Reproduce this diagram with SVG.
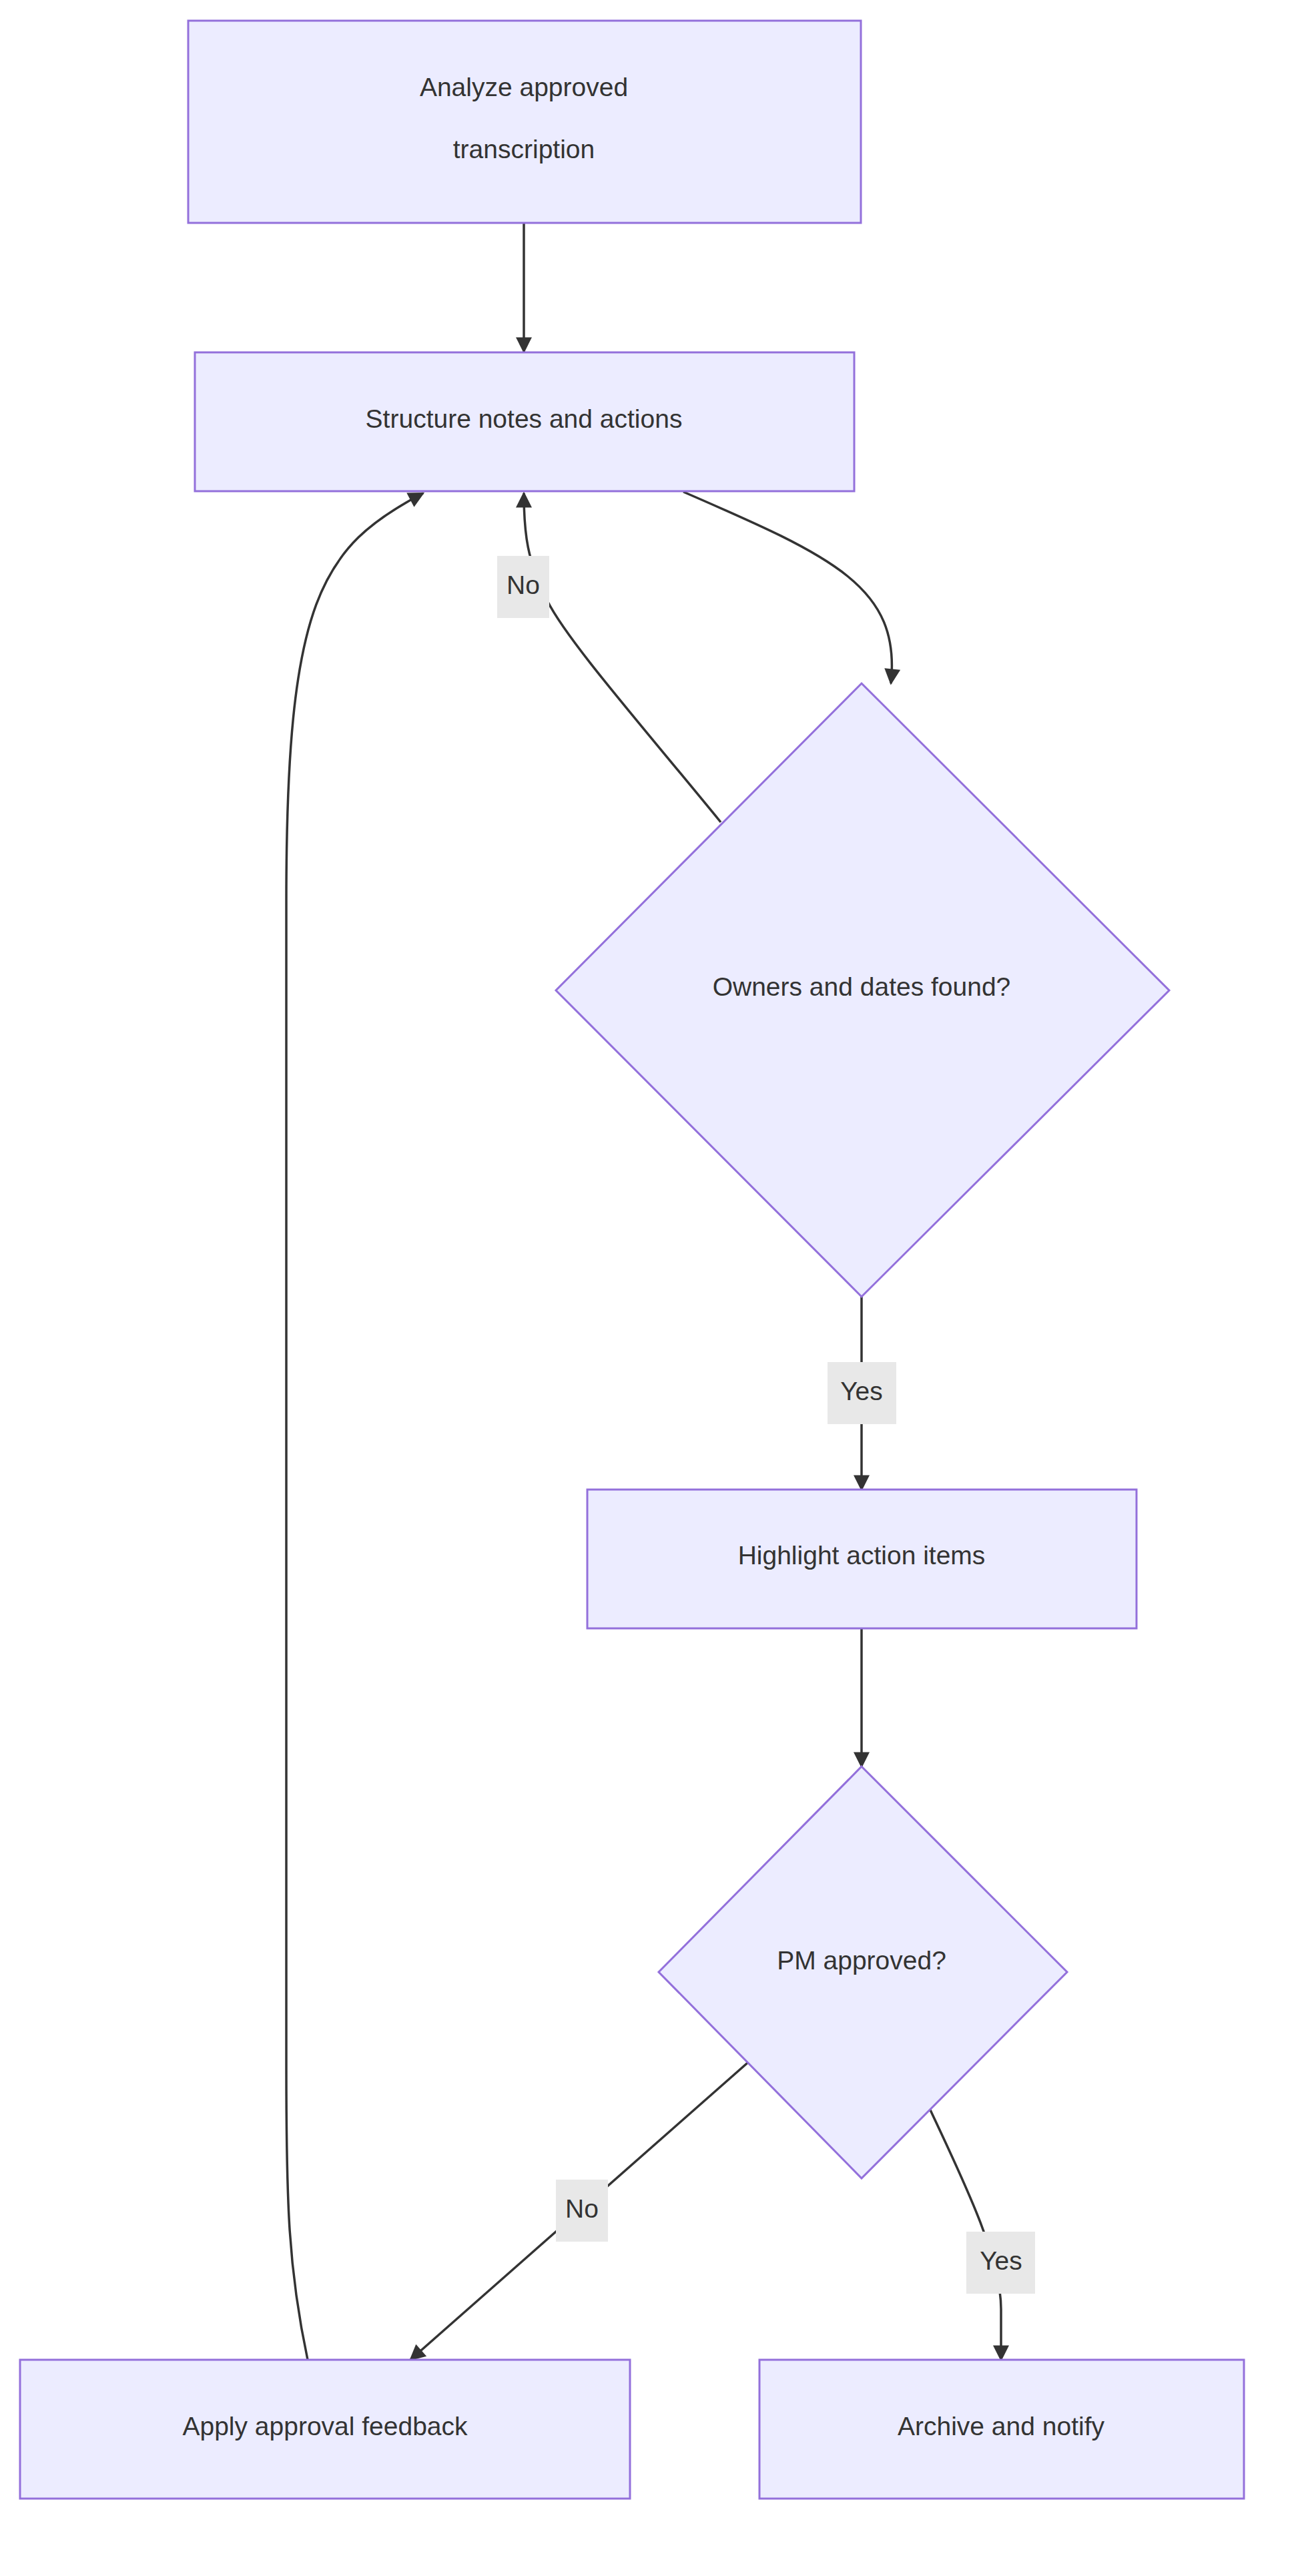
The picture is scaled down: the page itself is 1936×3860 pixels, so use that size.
<svg xmlns="http://www.w3.org/2000/svg" width="1936" height="3860" viewBox="0 0 1936 3860">
<style>
.n{fill:#ECECFF;stroke:#9370DB;stroke-width:3}
.t{font-family:"Liberation Sans",Arial,sans-serif;font-size:39px;fill:#333;text-anchor:middle;dominant-baseline:central}
.e{fill:none;stroke:#333;stroke-width:3.5}
.lb{fill:#e8e8e8}
</style>
<defs>
<marker id="ah" viewBox="0 0 10 10" refX="9" refY="5" markerWidth="8" markerHeight="8" markerUnits="userSpaceOnUse" orient="auto" style="overflow:visible">
<path d="M0,0 L10,5 L0,10 z" fill="#333" transform="scale(3)" transform-origin="9 5"/>
</marker>
</defs>
<rect width="1936" height="3860" fill="#fff"/>
<g id="connectors">
<path class="e" d="M785,333 L785,527" marker-end="url(#ah)"/>
<path class="e" d="M1024,737 C1250,835 1350,880 1335,1024" marker-end="url(#ah)"/>
<path class="e" d="M1080,1232 C960,1085 850,960 820,900 C790,840 785,800 785,739" marker-end="url(#ah)"/>
<path class="e" d="M1291,1943 L1291,2232" marker-end="url(#ah)"/>
<path class="e" d="M1291,2440 L1291,2647" marker-end="url(#ah)"/>
<path class="e" d="M1127,3085 L615,3536" marker-end="url(#ah)"/>
<path class="e" d="M1389,3151 C1440,3260 1500,3380 1500,3460 L1500,3536" marker-end="url(#ah)"/>
<path class="e" d="M461,3536 C432,3400 429,3300 429,3100 L429,1350 C429,900 480,820 634,739" marker-end="url(#ah)"/>
<rect class="lb" x="745" y="833" width="78" height="93"/><text class="t" x="784" y="876">No</text>
<rect class="lb" x="1240" y="2041" width="103" height="93"/><text class="t" x="1291" y="2084">Yes</text>
<rect class="lb" x="833" y="3266" width="78" height="93"/><text class="t" x="872" y="3309">No</text>
<rect class="lb" x="1448" y="3344" width="103" height="93"/><text class="t" x="1500" y="3387">Yes</text>
</g>
<g id="n1"><rect class="n" x="282" y="31" width="1008" height="303"/><text class="t" x="785" y="130">Analyze approved</text><text class="t" x="785" y="223">transcription</text></g>
<g id="n2"><rect class="n" x="292" y="528" width="988" height="208"/><text class="t" x="785" y="627">Structure notes and actions</text></g>
<g id="n3"><polygon class="n" points="1291,1024 1752,1484 1291,1943 833,1484"/><text class="t" x="1291" y="1478">Owners and dates found?</text></g>
<g id="n4"><rect class="n" x="880" y="2232" width="823" height="208"/><text class="t" x="1291" y="2330">Highlight action items</text></g>
<g id="n5"><polygon class="n" points="1291,2647 1599,2955 1291,3264 987,2955"/><text class="t" x="1291" y="2937">PM approved?</text></g>
<g id="n6"><rect class="n" x="30" y="3536" width="914" height="208"/><text class="t" x="487" y="3635">Apply approval feedback</text></g>
<g id="n7"><rect class="n" x="1138" y="3536" width="726" height="208"/><text class="t" x="1500" y="3635">Archive and notify</text></g>
</svg>
